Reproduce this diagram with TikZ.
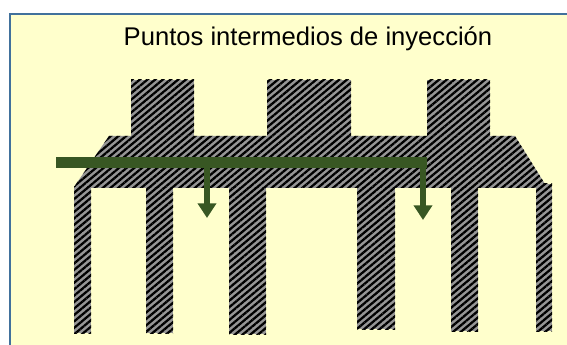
\documentclass[tikz,border=0pt]{standalone}
\usepackage{fontspec}
\setmainfont{Liberation Sans}
\usetikzlibrary{arrows.meta}
\usetikzlibrary{patterns.meta}
\definecolor{framefill}{RGB}{255, 255, 204}
\definecolor{frameline}{RGB}{65, 113, 156}
\definecolor{runnergreen}{RGB}{56, 87, 35}
\definecolor{moldgray}{RGB}{150, 150, 150}
\tikzset{
    moldpart/.style={fill=moldgray, postaction={pattern={Lines[angle=40, distance=3.7pt, line width=1.7pt]}, pattern color=black}},
    runner/.style={draw=runnergreen, line width=8.25pt},
    drop/.style={draw=runnergreen, line width=4.5pt, -{Triangle[length=11pt, width=13.5pt]}}
}

\begin{document}
\begin{tikzpicture}[x=0.75pt, y=-0.75pt]
            \useasboundingbox (0,0) rectangle (567,345);
            % Frame
            \fill[framefill]                 (10, 14) rectangle (567, 345);
            \draw[frameline, line width=1.5pt]  (10, 345) -- (10, 14) -- (567, 14);
            % Title
            \node (title) at (308, 39) {\fontsize{19.2pt}{23pt}\selectfont Puntos intermedios de inyección};
            % Top blocks
            \path[moldpart]  (131,  80) rectangle (194, 136);
            \path[moldpart]  (267,  80) rectangle (351, 136);
            \path[moldpart]  (427,  80) rectangle (490, 136);
            % Body
            \path[moldpart]  (109, 136) -- (515, 136) -- (545, 184) -- (545, 188) -- (74, 188) -- (74, 187) -- cycle;
            % Legs
            \path[moldpart]  ( 74, 187) rectangle ( 91, 333);
            \path[moldpart]  (146, 188) rectangle (173, 333);
            \path[moldpart]  (229, 188) rectangle (266, 334);
            \path[moldpart]  (357, 188) rectangle (395, 329);
            \path[moldpart]  (451, 188) rectangle (478, 331);
            \path[moldpart]  (536, 184) rectangle (552, 331);
            % Runner & drops
            \coordinate (runnerstart) at ( 56, 162.5);
            \coordinate (runnerend)   at (427, 162.5);
            \coordinate (dropa)       at (207, 162.5);
            \coordinate (dropaend)    at (207, 218);
            \coordinate (dropb)       at (423, 162.5);
            \coordinate (dropbend)    at (423, 220);
            \draw[drop]    (dropa) -- (dropaend);
            \draw[drop]    (dropb) -- (dropbend);
            \draw[runner]  (runnerstart) -- (runnerend);
\end{tikzpicture}
\end{document}
